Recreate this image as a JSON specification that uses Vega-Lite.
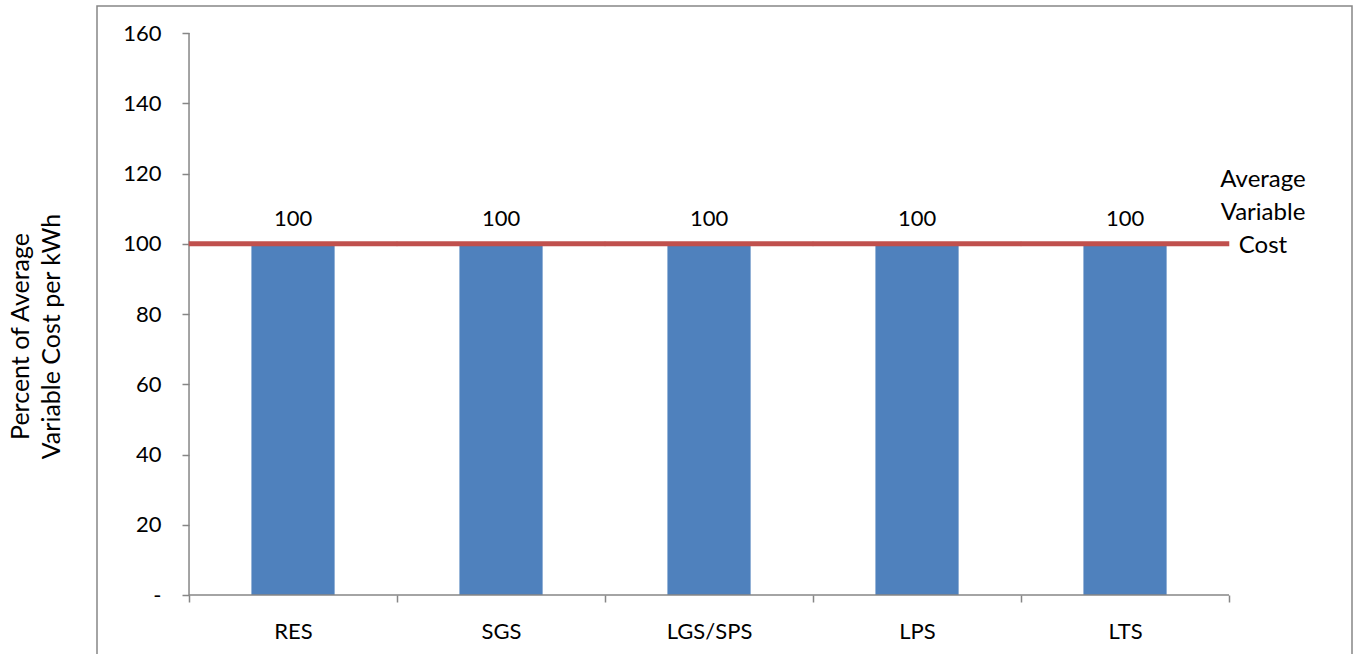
{
  "$schema": "https://vega.github.io/schema/vega-lite/v6.json",
  "width": 1255,
  "height": 660,
  "autosize": {"type": "none"},
  "padding": {"left": 97, "top": 6, "right": 1, "bottom": 0},
  "background": "white",
  "config": {
    "view": {"stroke": "#868686", "strokeWidth": 1.5},
    "font": "Lato",
    "axis": {
      "labelFont": "Lato", "titleFont": "Lato", "labelColor": "black", "titleColor": "black",
      "domain": false, "tickColor": "#868686", "tickSize": 7, "tickWidth": 1.5, "grid": false,
      "labelFontSize": 22, "titleFontWeight": "normal", "titleFontSize": 25
    }
  },
  "data": {
    "values": [
      {"cls": "RES", "pct": 100},
      {"cls": "SGS", "pct": 100},
      {"cls": "LGS/SPS", "pct": 100},
      {"cls": "LPS", "pct": 100},
      {"cls": "LTS", "pct": 100}
    ]
  },
  "encoding": {
    "x": {
      "field": "cls", "type": "nominal", "sort": null,
      "scale": {"paddingInner": 0, "paddingOuter": 0.5168, "align": 0.428},
      "axis": {"title": null, "labelAngle": 0, "tickBand": "extent", "labelPadding": 19, "offset": -71}
    }
  },
  "layer": [
    {
      "mark": {"type": "bar", "color": "#4F81BD", "width": {"band": 0.4}},
      "encoding": {
        "y": {
          "field": "pct", "type": "quantitative",
          "scale": {"domain": [-20.21, 167.69], "nice": false, "zero": false},
          "axis": {
            "values": [0, 20, 40, 60, 80, 100, 120, 140, 160],
            "labelExpr": "datum.value == 0 ? '-' : datum.label",
            "labelPadding": 21,
            "offset": -92,
            "title": ["Percent of Average", "Variable Cost per kWh"],
            "titlePadding": 58,
            "titleLineHeight": 31
          }
        }
      }
    },
    {
      "data": {"values": [{"cls": "RES", "lo": 0, "hi": 160}]},
      "mark": {"type": "rule", "color": "#868686", "strokeWidth": 1.5},
      "encoding": {
        "x": {"field": "cls", "type": "nominal", "bandPosition": 0},
        "y": {"field": "lo", "type": "quantitative"},
        "y2": {"field": "hi"}
      }
    },
    {
      "data": {"values": [
        {"cls": "RES", "base": 0}, {"cls": "SGS", "base": 0}, {"cls": "LGS/SPS", "base": 0},
        {"cls": "LPS", "base": 0}, {"cls": "LTS", "base": 0}
      ]},
      "mark": {"type": "tick", "color": "#868686", "thickness": 1.5, "size": 208, "orient": "horizontal", "opacity": 1},
      "encoding": {
        "y": {"field": "base", "type": "quantitative"}
      }
    },
    {
      "mark": {"type": "text", "fontSize": 22, "dy": -25, "color": "black"},
      "encoding": {
        "y": {"field": "pct", "type": "quantitative"},
        "text": {"field": "pct", "type": "quantitative"}
      }
    },
    {
      "data": {"values": [
        {"cls": "RES", "avg": 100}, {"cls": "SGS", "avg": 100}, {"cls": "LGS/SPS", "avg": 100},
        {"cls": "LPS", "avg": 100}, {"cls": "LTS", "avg": 100}
      ]},
      "mark": {"type": "tick", "color": "#C0504D", "thickness": 5, "size": 208.5, "orient": "horizontal", "opacity": 1},
      "encoding": {"y": {"field": "avg", "type": "quantitative"}}
    },
    {
      "data": {"values": [{"cls": "LTS", "avg": 100, "label": "Average\nVariable\nCost"}]},
      "mark": {"type": "text", "fontSize": 24, "lineBreak": "\n", "lineHeight": 33, "dx": 138, "dy": -64, "baseline": "middle", "align": "center", "color": "black"},
      "encoding": {
        "y": {"field": "avg", "type": "quantitative"},
        "text": {"field": "label"}
      }
    }
  ]
}
